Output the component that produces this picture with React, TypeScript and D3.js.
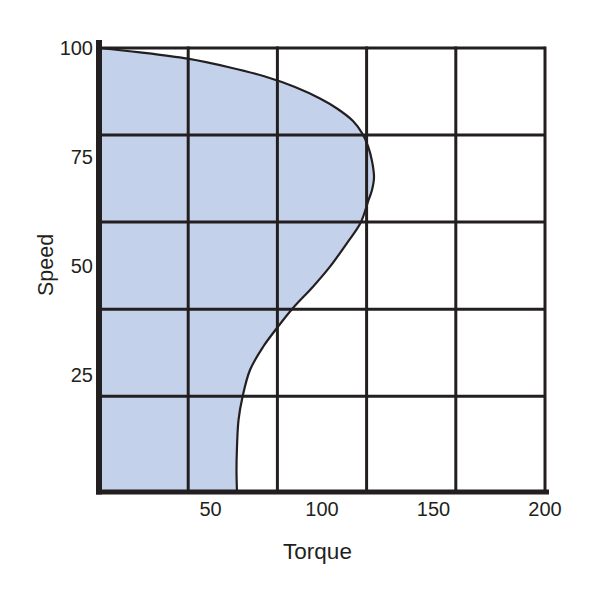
import React from "react";
import * as d3 from "d3";

// Tick labels
const torqueTicks = [50, 100, 150, 200];
const speedTicks = [25, 50, 75, 100];
// Grid line values
const gridTorque = [0, 40, 80, 120, 160, 200];
const gridSpeed = [20, 40, 60, 80, 100];

// Torque–speed curve, from top-left down to the bottom axis
const curveSpeed = [100, 99.01, 97.54, 95.52, 93.45, 91.04, 88.4, 86.1, 83.23, 80.47, 77.46, 74.04, 70.25, 67.38, 65.03, 59.78, 55.2, 49.76, 45.16, 40.27, 35.68, 31.31, 26.03, 19.82, 14.54, 8.34, 3.05, -2];
const curveTorque = [0, 18.39, 39.78, 58.74, 74.44, 87.89, 99.1, 106.73, 113.9, 117.94, 120.63, 122.42, 123.32, 122.42, 120.85, 117.26, 111.21, 103.59, 95.96, 86.99, 79.82, 73.54, 67.71, 64.35, 62.56, 61.88, 61.66, 61.88];

const W = 600;
const H = 597;
const INK = "#231f20";
const FILL = "#c4d1ea";
const FONT = "'Liberation Sans', Arial, Helvetica, sans-serif";

export default function App() {
  const x = d3.scaleLinear().domain([0, 200]).range([99, 545]);
  const y = d3.scaleLinear().domain([-2, 100]).range([492, 48]);

  const pts = curveSpeed.map((s, i) => ({ s, t: curveTorque[i] }));

  const area = d3
    .area<{ s: number; t: number }>()
    .x0(() => x(0))
    .x1((d) => x(d.t))
    .y((d) => y(d.s))
    .curve(d3.curveCatmullRom.alpha(0.5));
  const line = d3
    .line<{ s: number; t: number }>()
    .x((d) => x(d.t))
    .y((d) => y(d.s))
    .curve(d3.curveCatmullRom.alpha(0.5));

  const [x0, x1] = x.range();
  const yBottom = y(-2);
  const yTop = y(100);

  return (
    <svg
      width={W}
      height={H}
      viewBox={`0 0 ${W} ${H}`}
      style={{ position: "absolute", left: 0, top: 0, background: "#fff" }}
    >
      <path d={area(pts) || ""} fill={FILL} stroke="none" />
      {/* grid */}
      {gridSpeed.map((v) => (
        <line key={"h" + v} x1={x0} x2={x1} y1={y(v)} y2={y(v)} stroke={INK} strokeWidth={3} />
      ))}
      {gridTorque.slice(1).map((v) => (
        <line key={"v" + v} x1={x(v)} x2={x(v)} y1={yTop - 1.5} y2={yBottom} stroke={INK} strokeWidth={3} />
      ))}
      {/* curve */}
      <path d={line(pts) || ""} fill="none" stroke={INK} strokeWidth={2.2} />
      {/* axes */}
      <line x1={x0 - 3} x2={x1 + 4} y1={yBottom} y2={yBottom} stroke={INK} strokeWidth={5} />
      <line x1={x0} x2={x0} y1={yTop - 8} y2={yBottom + 2.5} stroke={INK} strokeWidth={6} />
      {/* tick labels */}
      {torqueTicks.map((v) => (
        <text key={"tx" + v} x={x(v)} y={516} textAnchor="middle" fontFamily={FONT} fontSize={20} fill={INK}>
          {v}
        </text>
      ))}
      {speedTicks.map((v) => (
        <text key={"ty" + v} x={93} y={y(v) + 7.2} textAnchor="end" fontFamily={FONT} fontSize={20} fill={INK}>
          {v}
        </text>
      ))}
      {/* axis titles */}
      <text x={317.5} y={559} textAnchor="middle" fontFamily={FONT} fontSize={22.5} fill={INK}>
        Torque
      </text>
      <text
        transform={`translate(53, 265) rotate(-90)`}
        textAnchor="middle"
        fontFamily={FONT}
        fontSize={21.5}
        fill={INK}
      >
        Speed
      </text>
    </svg>
  );
}
